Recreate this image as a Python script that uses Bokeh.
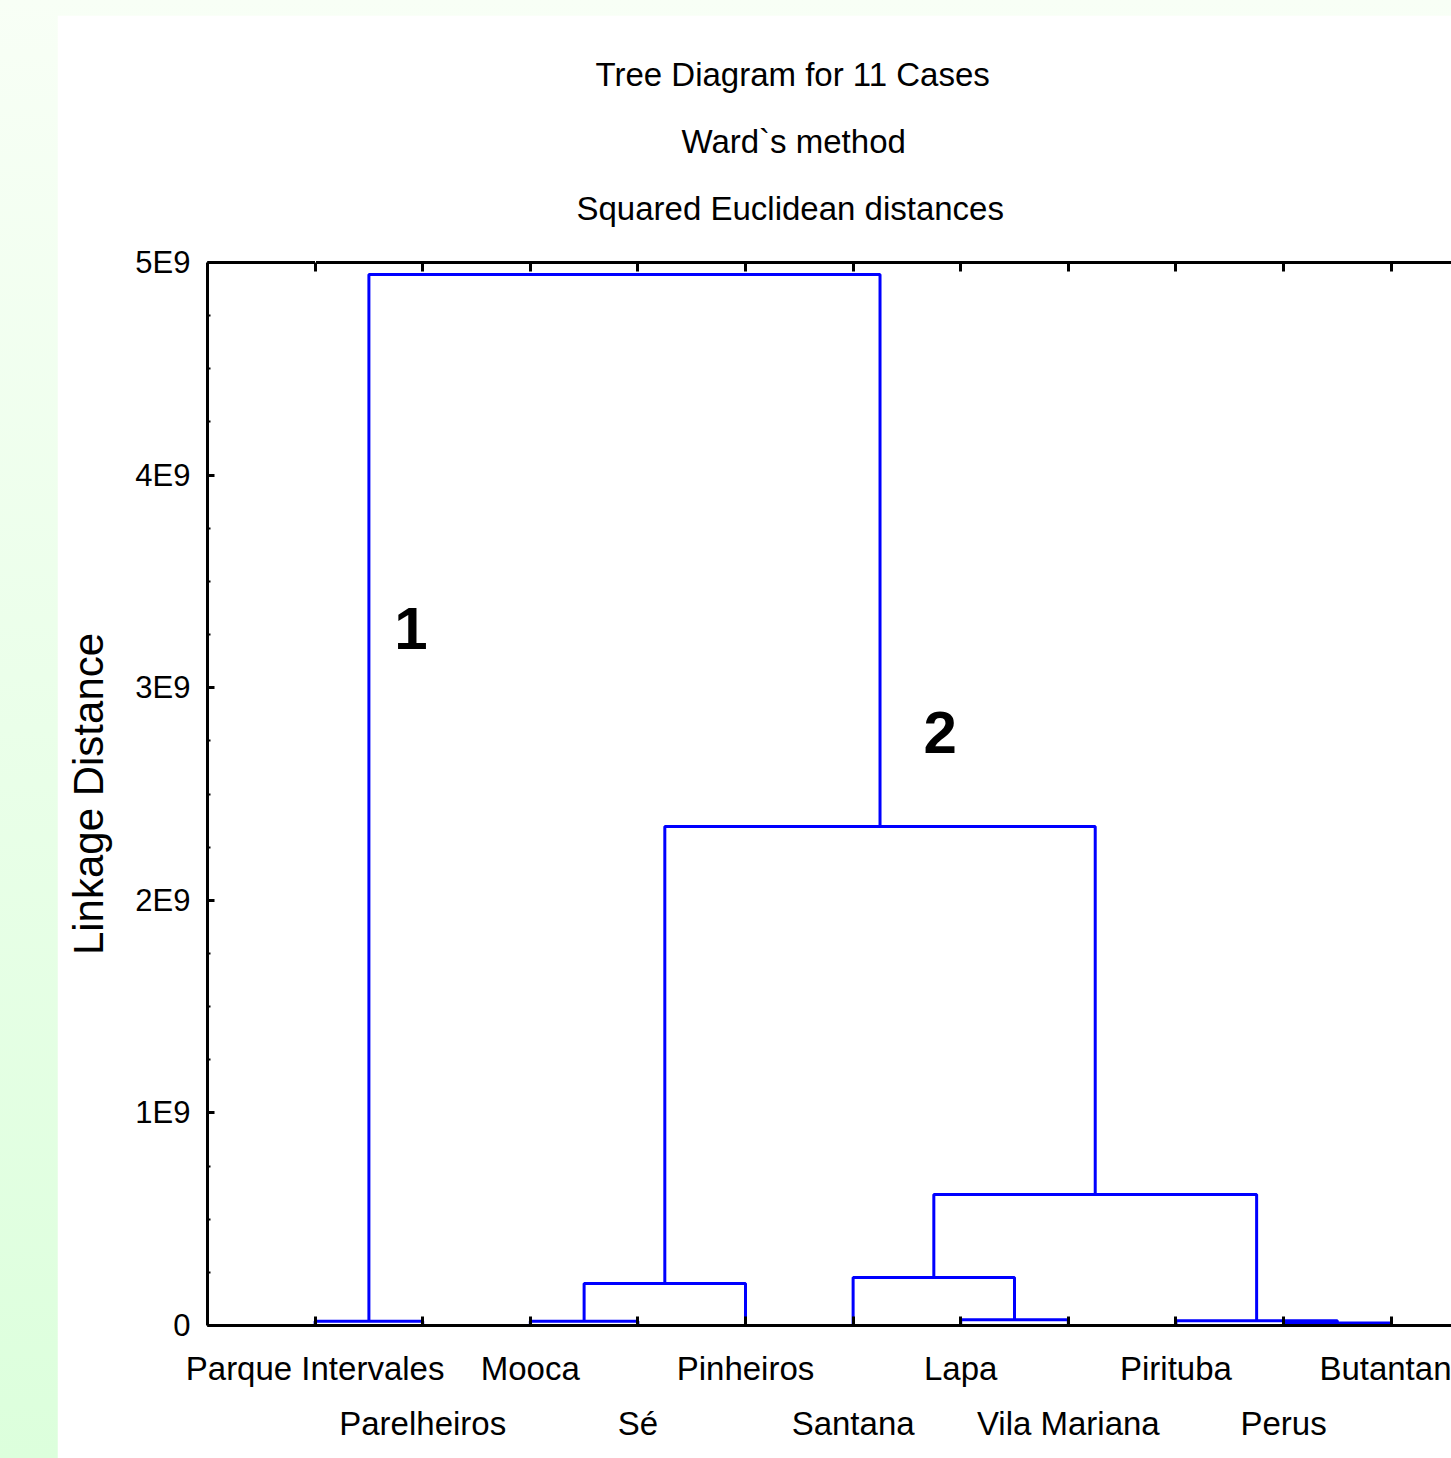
from bokeh.plotting import figure
from bokeh.models import (Range1d, FixedTicker, LinearAxis, Title, Label,
                          SingleIntervalTicker, Spacer)
from bokeh.layouts import column, row
from bokeh.embed import file_html
from bokeh.resources import INLINE

# ---------------- data ----------------
leaves = ["Parque Intervales", "Parelheiros", "Mooca", "Sé", "Pinheiros",
          "Santana", "Lapa", "Vila Mariana", "Pirituba", "Perus", "Butantan"]
# merges: ids < 11 are leaves (order above), ids >= 11 are earlier merges
merge_a = [0, 2, 12, 6, 5, 9, 8, 15, 13, 11]
merge_b = [1, 3, 4, 7, 14, 10, 16, 17, 18, 19]
merge_height = [0.020e9, 0.020e9, 0.198e9, 0.027e9, 0.226e9,
                0.012e9, 0.022e9, 0.616e9, 2.347e9, 4.943e9]
y_ticks = [0, 1e9, 2e9, 3e9, 4e9, 5e9]
y_tick_labels = ["0", "1E9", "2E9", "3E9", "4E9", "5E9"]
cluster_labels = ["1", "2"]
cluster_label_x = [1.89, 6.81]
cluster_label_y = [3.28e9, 2.79e9]
titles = ["Tree Diagram for 11 Cases", "Ward`s method", "Squared Euclidean distances"]

# ---------------- dendrogram geometry ----------------
n = len(leaves)
pos = {i: float(i + 1) for i in range(n)}
hgt = {i: 0.0 for i in range(n)}
xs, ys = [], []
for k, (a, b, h) in enumerate(zip(merge_a, merge_b, merge_height)):
    xa, xb = pos[a], pos[b]
    xs.append([xa, xa, xb, xb])
    ys.append([hgt[a], h, h, hgt[b]])
    pos[n + k] = (xa + xb) / 2
    hgt[n + k] = h

SANS = "Liberation Sans"

p = figure(width=1394, height=1443, output_backend="svg", toolbar_location=None,
           x_range=Range1d(0, 11.561), y_range=Range1d(0, 5e9),
           min_border_left=150, min_border_right=0, min_border_top=247,
           min_border_bottom=133, x_axis_type=None, y_axis_type=None)
p.outline_line_color = None
p.background_fill_color = "white"
p.border_fill_color = "white"

p.multi_line(xs, ys, line_color="#0000ff", line_width=3)

# left axis
yax = LinearAxis(ticker=SingleIntervalTicker(interval=1e9, num_minor_ticks=4))
yax.major_label_overrides = {t: l for t, l in zip(y_ticks, y_tick_labels)}
yax.axis_line_width = 3
yax.axis_line_color = "black"
yax.major_tick_in = 7
yax.major_tick_out = 0
yax.major_tick_line_width = 3
yax.minor_tick_in = 3
yax.minor_tick_out = 0
yax.minor_tick_line_width = 2
yax.major_label_text_font = SANS
yax.major_label_text_font_size = "31px"
yax.major_label_text_color = "black"
yax.major_label_standoff = 17
yax.axis_label = "Linkage Distance"
yax.axis_label_text_font = SANS
yax.axis_label_text_font_size = "42px"
yax.axis_label_text_font_style = "normal"
yax.axis_label_text_color = "black"
yax.axis_label_standoff = 20
p.add_layout(yax, "left")

# grid
p.ygrid.ticker = yax.ticker
p.ygrid.grid_line_color = "#c8c8c8"
p.ygrid.grid_line_dash = "4 3"
p.ygrid.grid_line_width = 1
p.xgrid.visible = False

# bottom axis (odd labels)
xt = list(range(1, n + 1))
xax1 = LinearAxis(ticker=FixedTicker(ticks=xt))
xax1.major_label_overrides = {i + 1: (leaves[i] if i % 2 == 0 else "") for i in range(n)}
xax1.axis_line_width = 3
xax1.major_tick_in = 9
xax1.major_tick_out = 0
xax1.major_tick_line_width = 3
xax1.minor_tick_line_color = None
xax1.major_label_text_font = SANS
xax1.major_label_text_font_size = "33px"
xax1.major_label_text_color = "black"
xax1.major_label_standoff = 24
p.add_layout(xax1, "below")

# bottom axis (even labels, second row)
xax2 = LinearAxis(ticker=FixedTicker(ticks=xt))
xax2.major_label_overrides = {i + 1: (leaves[i] if i % 2 == 1 else "") for i in range(n)}
xax2.axis_line_color = None
xax2.major_tick_line_color = None
xax2.minor_tick_line_color = None
xax2.major_label_text_font = SANS
xax2.major_label_text_font_size = "33px"
xax2.major_label_text_color = "black"
xax2.major_label_standoff = 9
p.add_layout(xax2, "below")

# top axis
xax3 = LinearAxis(ticker=FixedTicker(ticks=xt))
xax3.major_label_text_font_size = "0px"
xax3.major_label_standoff = 0
xax3.axis_line_width = 3
xax3.major_tick_in = 9
xax3.major_tick_out = 0
xax3.major_tick_line_width = 3
xax3.minor_tick_line_color = None
p.add_layout(xax3, "above")

# invisible spacing axis between frame and titles (white ticks on white)
gap = LinearAxis(ticker=FixedTicker(ticks=[1]))
gap.axis_line_color = None
gap.major_tick_line_color = "white"
gap.major_tick_line_width = 1
gap.minor_tick_line_color = None
gap.major_tick_in = 0
gap.major_tick_out = 22
gap.minor_tick_out = 0
gap.major_label_overrides = {1: ""}
gap.major_label_text_font_size = "0px"
gap.major_label_standoff = 0
p.add_layout(gap, "above")

# titles (added nearest-first); left offsets centre them near x=791 on the page
title_offsets = [388, 474, 369]
for t, off in reversed(list(zip(titles, title_offsets))):
    p.add_layout(Title(text=t, align="left", text_font=SANS, text_font_size="33px",
                       text_font_style="normal", text_color="black",
                       offset=off, standoff=28), "above")

for t, x, y in zip(cluster_labels, cluster_label_x, cluster_label_y):
    p.add_layout(Label(x=x, y=y, text=t, text_font=SANS, text_font_style="bold",
                       text_color="black", text_font_size="60px",
                       text_align="center", text_baseline="middle"))

top = Spacer(width=1451, height=15)
left = Spacer(width=57, height=1443)
lay = column(top, row(left, p), spacing=0,
             styles={"background": "linear-gradient(to bottom, #f8fff6, #dcffdc)"})

open("out.html", "w").write(file_html(lay, INLINE))
